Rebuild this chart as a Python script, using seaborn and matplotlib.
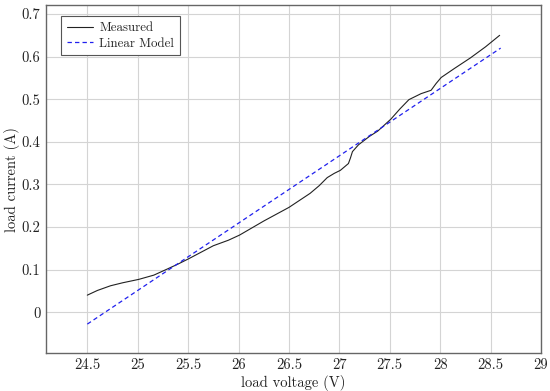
import numpy as np
import pandas as pd
import matplotlib
matplotlib.use('Agg')
import matplotlib.pyplot as plt
import seaborn as sns

# measured load curve
voltage = [24.50, 24.60, 24.73, 24.85, 25.01, 25.16, 25.29, 25.40, 25.51, 25.63, 25.75,
           25.90, 26.01, 26.25, 26.50, 26.71, 26.80, 26.88, 26.95, 27.01, 27.09, 27.11,
           27.13, 27.19, 27.30, 27.38, 27.51, 27.60, 27.69, 27.81, 27.91, 27.96, 28.01,
           28.14, 28.30, 28.45, 28.59]
current = [0.040, 0.051, 0.062, 0.069, 0.077, 0.087, 0.101, 0.113, 0.126, 0.141, 0.156,
           0.169, 0.181, 0.214, 0.246, 0.279, 0.297, 0.316, 0.326, 0.333, 0.349, 0.362,
           0.377, 0.393, 0.413, 0.425, 0.453, 0.477, 0.499, 0.513, 0.521, 0.537, 0.551,
           0.572, 0.597, 0.623, 0.650]

# linear model end points
model_v = [24.5, 28.6]
model_i = [-0.028, 0.620]

xticks = [24.5, 25, 25.5, 26, 26.5, 27, 27.5, 28, 28.5, 29]
xticklabels = ['24.5', '25', '25.5', '26', '26.5', '27', '27.5', '28', '28.5', '29']
yticks = [0, 0.1, 0.2, 0.3, 0.4, 0.5, 0.6, 0.7]
yticklabels = ['0', '0.1', '0.2', '0.3', '0.4', '0.5', '0.6', '0.7']

measured = pd.DataFrame({'v': voltage, 'i': current})
model = pd.DataFrame({'v': model_v, 'i': model_i})

sns.set_style('whitegrid')
plt.rcParams['font.family'] = 'serif'
plt.rcParams['font.serif'] = ['cmr10', 'DejaVu Serif']
plt.rcParams['axes.formatter.use_mathtext'] = True

fig, ax = plt.subplots(figsize=(5.5, 3.91), dpi=100)
fig.subplots_adjust(left=0.0836, right=0.9836, top=0.987, bottom=0.097)

sns.lineplot(data=measured, x='v', y='i', ax=ax, color='#222222', lw=0.8,
             label='Measured', sort=False)
sns.lineplot(data=model, x='v', y='i', ax=ax, color='#2020ee', lw=0.9,
             label='Linear Model')
ax.lines[1].set_dashes((3.5, 2.5))

ax.set_xlim(24.09, 29.0)
ax.set_ylim(-0.096, 0.721)
ax.set_xticks(xticks)
ax.set_xticklabels(xticklabels)
ax.set_yticks(yticks)
ax.set_yticklabels(yticklabels)
ax.tick_params(axis='x', labelsize=10.5, length=0, pad=4, colors='#222222')
ax.tick_params(axis='y', labelsize=10.5, length=0, pad=4, colors='#222222')

ax.grid(True, color='#d4d4d4', lw=0.8)
for s in ax.spines.values():
    s.set_color('#666666')
    s.set_linewidth(1.0)

ax.set_xlabel('load voltage (V)', fontsize=10.5, color='#222222', labelpad=2)
ax.set_ylabel('load current (A)', fontsize=10.5, color='#222222', labelpad=1)

leg = ax.legend(loc='upper left', fontsize=9.3, fancybox=False, framealpha=1,
                edgecolor='#555555', handlelength=2.0, handletextpad=0.5,
                borderpad=0.45, labelspacing=0.25, borderaxespad=0.0,
                bbox_to_anchor=(0.031, 0.968))
leg.get_frame().set_linewidth(0.8)

fig.savefig('out.png', dpi=100)
